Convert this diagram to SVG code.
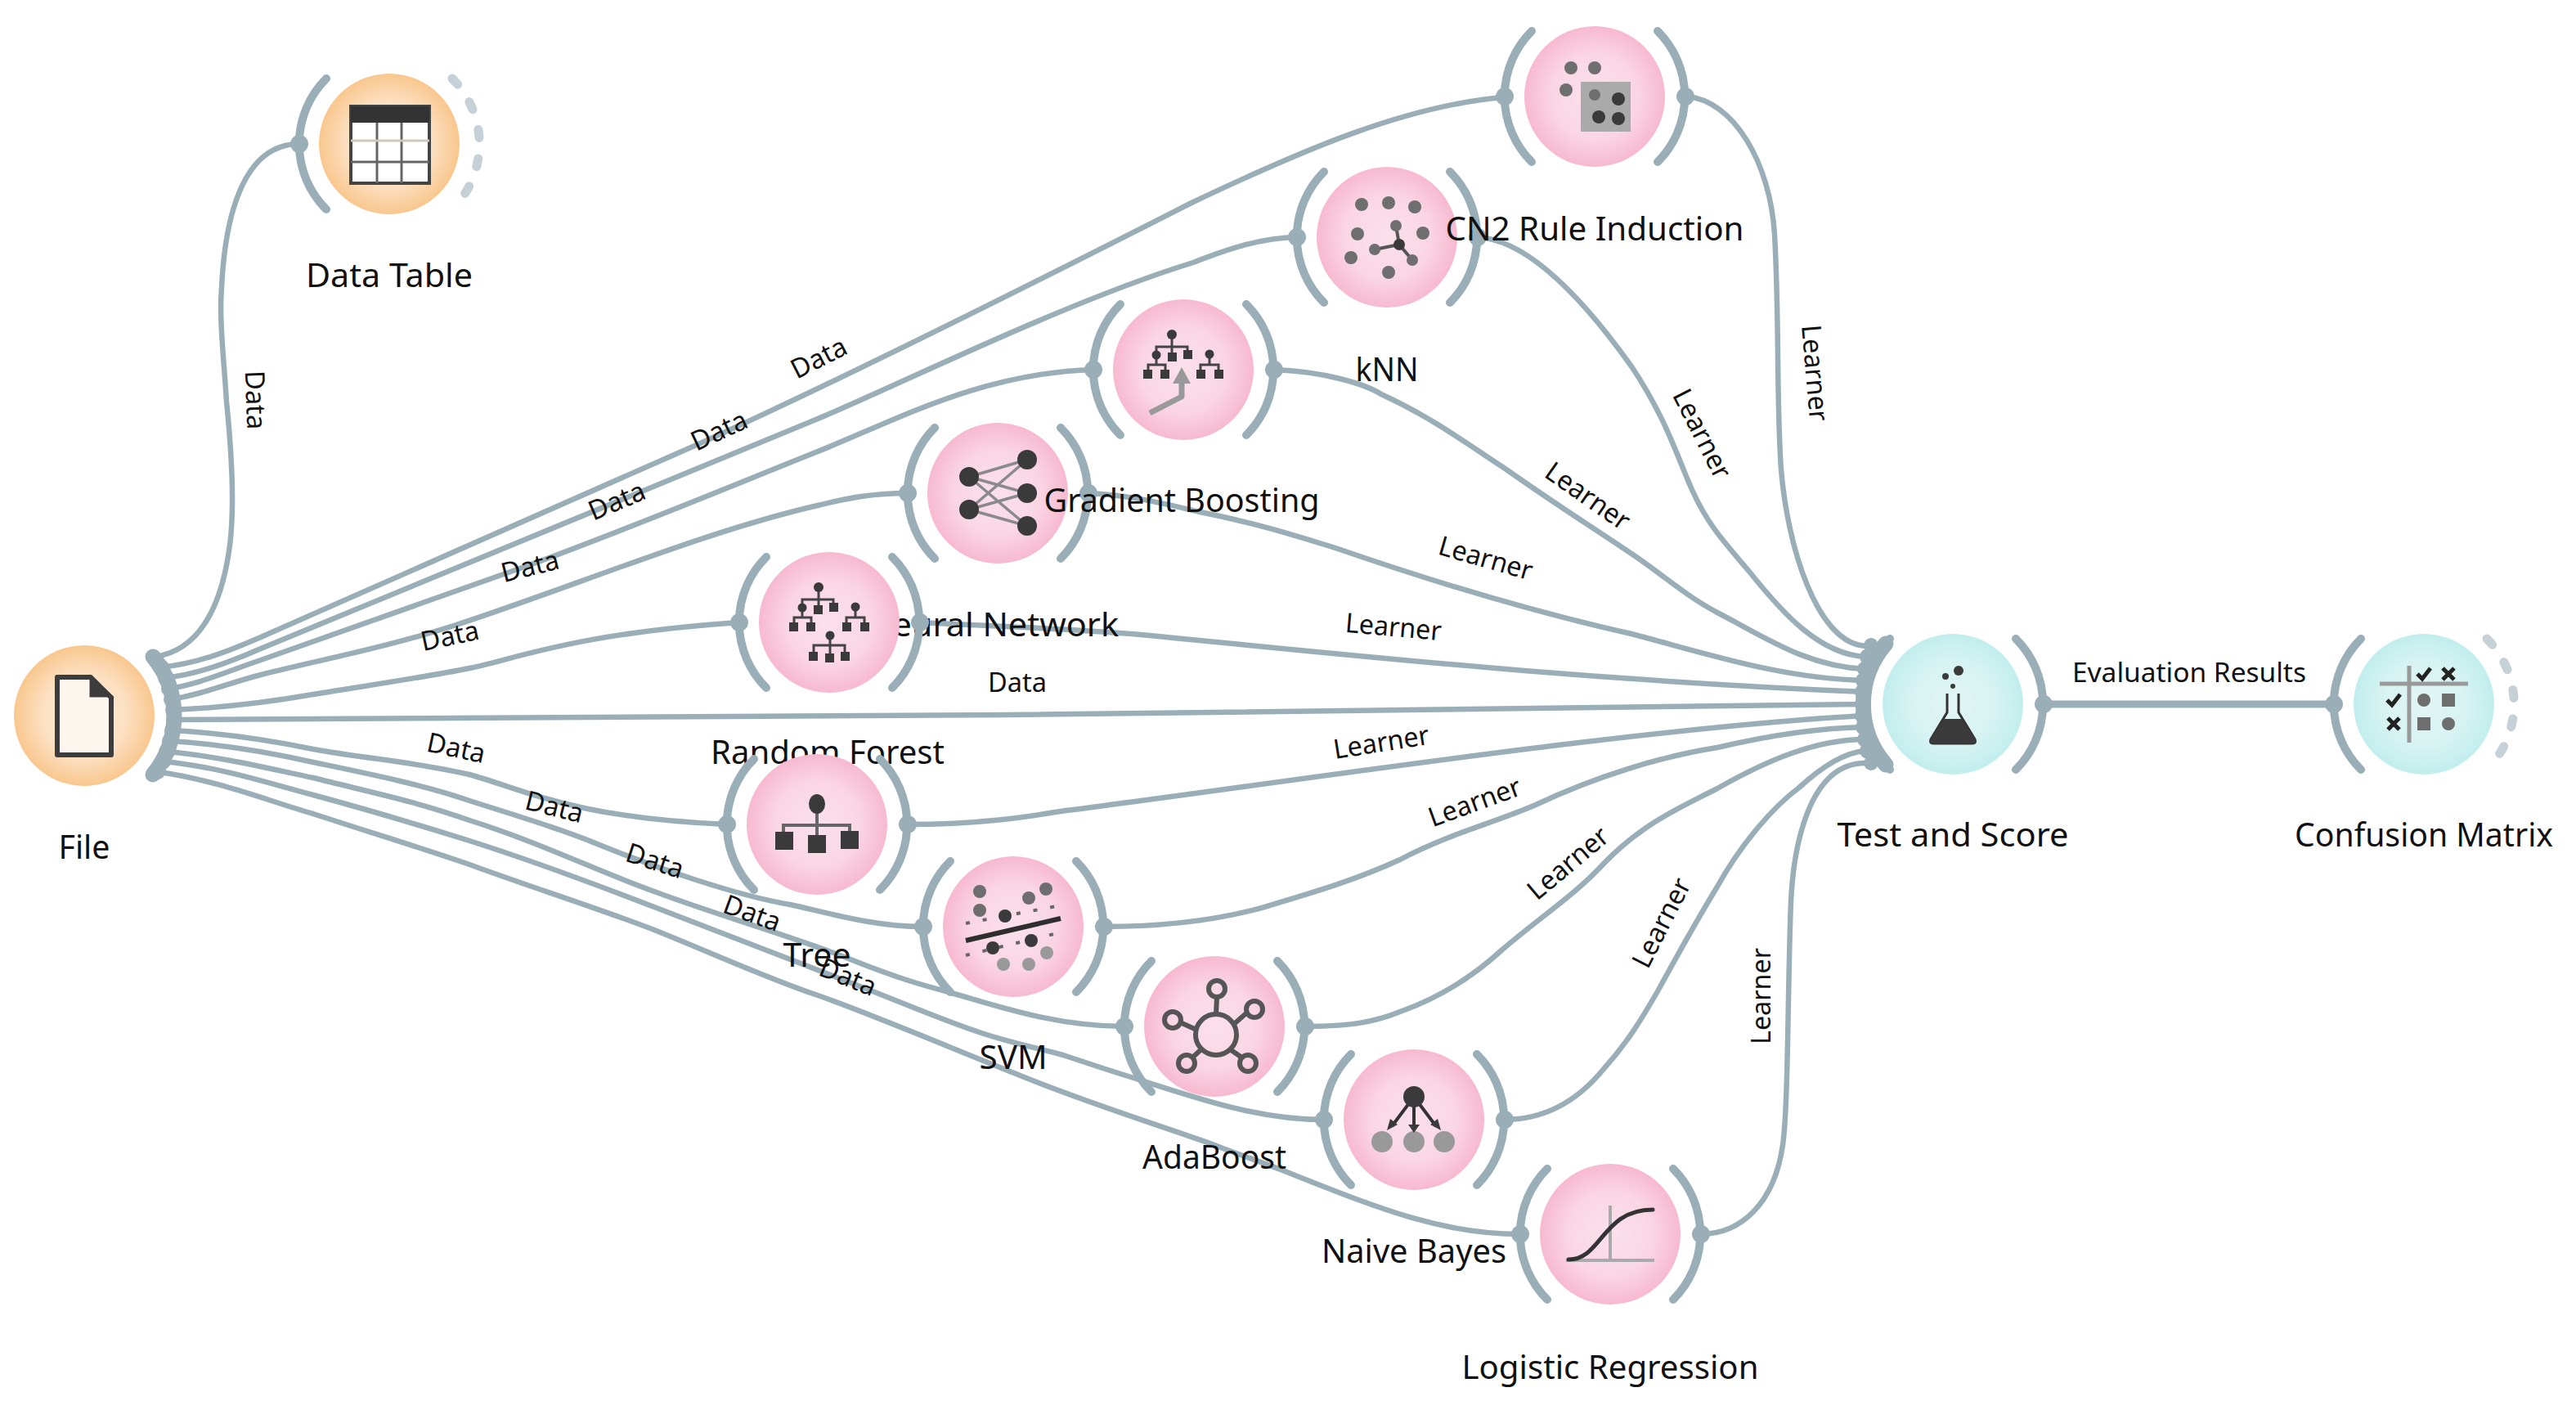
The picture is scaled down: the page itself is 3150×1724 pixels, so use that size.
<svg xmlns="http://www.w3.org/2000/svg" xmlns:xlink="http://www.w3.org/1999/xlink" width="3150" height="1724" viewBox="0 0 3150 1724">
<style>
text{font-family:"Noto Sans","DejaVu Sans",sans-serif;fill:#111}
.nl{font-size:40px;text-anchor:middle}
.el{font-size:33px;text-anchor:middle}
.link{fill:none;stroke:#9aaeb8;stroke-width:6.5;stroke-linecap:round}
.arc{fill:none;stroke:#9aaeb8;stroke-width:10;stroke-linecap:round}
.fan{fill:none;stroke:#9aaeb8;stroke-width:19;stroke-linecap:round}
.dash{fill:none;stroke:#c6d1d7;stroke-width:11;stroke-linecap:round;stroke-dasharray:10 25.6}
.dot{fill:#9aaeb8}
.pink{fill:url(#gPink)}.cyan{fill:url(#gCyan)}.orange{fill:url(#gOrange)}
.d{fill:#3a3a3a}.m{fill:#6e6e6e}.g{fill:#999}
.ln{fill:none;stroke:#444;stroke-width:3}
</style>
<defs>
<radialGradient id="gPink"><stop offset="0" stop-color="#fbe0ea"/><stop offset=".6" stop-color="#fad6e4"/><stop offset="1" stop-color="#f7b9d0"/></radialGradient>
<radialGradient id="gCyan"><stop offset="0" stop-color="#e2f6f5"/><stop offset=".6" stop-color="#d6f3f2"/><stop offset="1" stop-color="#c2eeed"/></radialGradient>
<radialGradient id="gOrange"><stop offset="0" stop-color="#fdeedd"/><stop offset=".6" stop-color="#fce0c2"/><stop offset="1" stop-color="#f9c78e"/></radialGradient>
<path id="arcL" class="arc" d="M-77,-80A113,113 0 0 0 -77,80"/>
<path id="arcR" class="arc" d="M77,-80A113,113 0 0 1 77,80"/>
<path id="arcD" class="dash" d="M77,-80A113,113 0 0 1 77,80"/>
<g id="learner"><use href="#arcL"/><use href="#arcR"/><circle class="dot" cx="-110" r="11"/><circle class="dot" cx="111" r="11"/><circle class="pink" r="86"/></g>
</defs>

<g id="connectors">
<path class="link" d="M190,803C240,795 270,750 281,667C287,620 284,560 277,491C273,430 268,390 271,351C275,270 295,176 366,176"/>
<path class="link" d="M195,816C240,812 280,796 319,779L829,554C900,523 1050,455 1459,247C1590,185 1720,128 1840,119"/>
<path class="link" d="M200,829C240,825 280,810 319,793L1000,512C1090,475 1300,370 1459,321C1500,305 1540,291 1586,290"/>
<path class="link" d="M205,842C240,838 280,820 319,807L647,691C760,650 880,600 1000,552C1100,512 1200,456 1337,452"/>
<path class="link" d="M208,855C245,850 280,835 319,825C400,805 470,792 555,765C700,718 860,650 1000,618C1040,608 1070,603 1110,603"/>
<path class="link" d="M210,868C260,866 320,860 383,849C450,838 520,828 574,817C630,806 700,775 904,761"/>
<path class="link" d="M213,880C800,880 1700,870 2278,861"/>
<path class="link" d="M212,893C280,897 330,905 383,916C450,928 510,932 574,947C640,965 700,1000 889,1008"/>
<path class="link" d="M208,906C270,910 330,920 383,932C450,946 520,960 574,979C640,1000 690,1015 733,1033C800,1060 900,1095 966,1106C1020,1118 1070,1133 1129,1133"/>
<path class="link" d="M205,919C270,925 330,940 383,951C450,968 510,980 574,1003C660,1030 730,1065 800,1090C880,1120 970,1145 1040,1173C1100,1197 1130,1205 1160,1213C1220,1230 1290,1255 1375,1255"/>
<path class="link" d="M200,931C270,938 330,958 383,972C450,990 510,1008 574,1028C650,1052 730,1082 800,1109C880,1140 990,1182 1067,1212C1120,1233 1160,1250 1200,1263C1240,1276 1270,1282 1300,1290C1330,1300 1360,1310 1383,1317C1470,1345 1540,1369 1619,1369"/>
<path class="link" d="M195,944C270,955 330,980 383,995C450,1017 510,1035 574,1057C650,1085 730,1110 800,1137C870,1165 940,1197 1000,1217C1060,1238 1160,1280 1240,1312C1320,1345 1400,1370 1477,1397C1510,1410 1540,1420 1571,1432C1680,1475 1760,1509 1859,1509"/>
<path class="link" d="M2062,118C2120,122 2165,200 2170,287C2176,390 2172,490 2178,574C2186,670 2222,786 2281,790"/>
<path class="link" d="M1806,290C1860,292 1925,350 1995,448C2040,515 2055,570 2071,603C2090,645 2115,670 2140,700C2180,750 2225,800 2281,803"/>
<path class="link" d="M1557,452C1620,454 1670,470 1689,482C1750,510 1790,540 1842,574C1900,615 1940,640 1995,677C2030,700 2060,728 2100,749C2160,780 2210,815 2281,818"/>
<path class="link" d="M1330,603C1380,605 1420,615 1467,626C1540,640 1600,660 1633,670C1720,700 1860,745 1995,775C2090,800 2180,830 2281,832"/>
<path class="link" d="M1124,761C1200,765 1300,768 1383,775C1600,795 1900,830 2281,846"/>
<path class="link" d="M1109,1008C1200,1008 1260,998 1297,992C1550,960 2000,890 2281,875"/>
<path class="link" d="M1349,1133C1420,1133 1490,1125 1546,1109C1610,1090 1660,1075 1712,1051C1770,1020 1830,1005 1878,984C1950,950 2030,925 2100,914C2160,900 2220,890 2281,889"/>
<path class="link" d="M1595,1255C1650,1255 1680,1250 1712,1237C1760,1220 1800,1195 1836,1162C1885,1120 1925,1095 1961,1056C2010,1005 2060,985 2100,964C2160,930 2220,904 2281,904"/>
<path class="link" d="M1839,1369C1890,1369 1930,1345 1961,1307C1990,1275 2008,1245 2027,1212C2050,1170 2075,1125 2100,1084C2130,1030 2170,985 2200,963C2225,940 2255,920 2281,918"/>
<path class="link" d="M2079,1509C2130,1509 2170,1470 2180,1400C2187,1350 2186,1200 2190,1102C2193,1040 2210,933 2281,933"/>
<path class="link" style="stroke-width:9" d="M2498,861H2854"/>
<g id="connector-labels">
<text class="el" textLength="72" lengthAdjust="spacingAndGlyphs" transform="translate(313,489) rotate(88) translate(0,12)">Data</text>
<text class="el" textLength="72" lengthAdjust="spacingAndGlyphs" transform="translate(1001,437) rotate(-27) translate(0,12)">Data</text>
<text class="el" textLength="72" lengthAdjust="spacingAndGlyphs" transform="translate(879,526) rotate(-25) translate(0,12)">Data</text>
<text class="el" textLength="72" lengthAdjust="spacingAndGlyphs" transform="translate(754,612) rotate(-23) translate(0,12)">Data</text>
<text class="el" textLength="72" lengthAdjust="spacingAndGlyphs" transform="translate(648,692) rotate(-14) translate(0,12)">Data</text>
<text class="el" textLength="72" lengthAdjust="spacingAndGlyphs" transform="translate(550,777) rotate(-12) translate(0,12)">Data</text>
<text class="el" textLength="72" lengthAdjust="spacingAndGlyphs" transform="translate(1244,834) translate(0,12)">Data</text>
<text class="el" textLength="72" lengthAdjust="spacingAndGlyphs" transform="translate(558,914) rotate(12) translate(0,12)">Data</text>
<text class="el" textLength="72" lengthAdjust="spacingAndGlyphs" transform="translate(678,986) rotate(14) translate(0,12)">Data</text>
<text class="el" textLength="72" lengthAdjust="spacingAndGlyphs" transform="translate(801,1052) rotate(18) translate(0,12)">Data</text>
<text class="el" textLength="72" lengthAdjust="spacingAndGlyphs" transform="translate(920,1116) rotate(20) translate(0,12)">Data</text>
<text class="el" textLength="72" lengthAdjust="spacingAndGlyphs" transform="translate(1037,1194) rotate(22) translate(0,12)">Data</text>
<text class="el" textLength="118" lengthAdjust="spacingAndGlyphs" transform="translate(2220,456) rotate(85) translate(0,12)">Learner</text>
<text class="el" textLength="118" lengthAdjust="spacingAndGlyphs" transform="translate(2082,530) rotate(63) translate(0,12)">Learner</text>
<text class="el" textLength="118" lengthAdjust="spacingAndGlyphs" transform="translate(1942,606) rotate(35) translate(0,12)">Learner</text>
<text class="el" textLength="118" lengthAdjust="spacingAndGlyphs" transform="translate(1817,682) rotate(16) translate(0,12)">Learner</text>
<text class="el" textLength="118" lengthAdjust="spacingAndGlyphs" transform="translate(1704,766) rotate(5) translate(0,12)">Learner</text>
<text class="el" textLength="118" lengthAdjust="spacingAndGlyphs" transform="translate(1689,907) rotate(-9) translate(0,12)">Learner</text>
<text class="el" textLength="118" lengthAdjust="spacingAndGlyphs" transform="translate(1803,980) rotate(-20) translate(0,12)">Learner</text>
<text class="el" textLength="118" lengthAdjust="spacingAndGlyphs" transform="translate(1917,1055) rotate(-40) translate(0,12)">Learner</text>
<text class="el" textLength="118" lengthAdjust="spacingAndGlyphs" transform="translate(2031,1128) rotate(-63) translate(0,12)">Learner</text>
<text class="el" textLength="118" lengthAdjust="spacingAndGlyphs" transform="translate(2153,1218) rotate(-90) translate(0,12)">Learner</text>
<text class="el" textLength="286" lengthAdjust="spacingAndGlyphs" x="2677" y="834">Evaluation Results</text>
</g>
</g>

<g id="node-data-table" transform="translate(476,176)">
<use href="#arcL"/><use href="#arcD"/><circle class="dot" cx="-110" r="11"/>
<circle class="orange" r="86"/>
<rect x="-47" y="-46" width="96" height="94" fill="#fff" stroke="#444" stroke-width="4"/>
<rect x="-47" y="-46" width="96" height="20" fill="#333"/>
<path d="M-15,-26V48M15,-26V48M-47,22H49" stroke="#666" stroke-width="3" fill="none"/>
<path d="M-47,-4H49" stroke="#cfc8bd" stroke-width="3"/>
<text class="nl" textLength="204" lengthAdjust="spacingAndGlyphs" x="0" y="175">Data Table</text>
</g>

<g id="node-file" transform="translate(103,875)">
<path class="fan" d="M84,-72A113,113 0 0 1 84,72"/>
<g class="dot"><circle cx="85" cy="-72" r="9"/><circle cx="94" cy="-59" r="10"/><circle cx="100" cy="-46" r="10"/><circle cx="104" cy="-33" r="10"/><circle cx="107" cy="-20" r="10"/><circle cx="109" cy="-7" r="10"/><circle cx="110" cy="5" r="10"/><circle cx="108" cy="18" r="10"/><circle cx="105" cy="31" r="10"/><circle cx="101" cy="44" r="10"/><circle cx="96" cy="56" r="10"/><circle cx="90" cy="69" r="9"/></g>
<circle class="orange" r="86"/>
<path d="M-33,-47H8L33,-22V48H-33Z" fill="#fdf6ee" stroke="#3c3c3c" stroke-width="6" stroke-linejoin="round"/>
<path d="M8,-47V-24H33Z" fill="#3c3c3c" stroke="#3c3c3c" stroke-width="3"/>
<text class="nl" textLength="63" lengthAdjust="spacingAndGlyphs" x="0" y="175">File</text>
</g>

<g id="node-neural-network" transform="translate(1220,603)">
<use href="#learner"/>
<g stroke="#8a8a8a" stroke-width="3.5" fill="none"><path d="M-35,-20L36,-41M-35,-20L36,0M-35,-20L36,40M-35,20L36,-41M-35,20L36,0M-35,20L36,40"/></g>
<g class="d"><circle cx="-35" cy="-20" r="12"/><circle cx="-35" cy="20" r="12"/><circle cx="36" cy="-41" r="12"/><circle cx="36" cy="0" r="12"/><circle cx="36" cy="40" r="12"/></g>
<text class="nl" textLength="308" lengthAdjust="spacingAndGlyphs" x="-6" y="175">Neural Network</text>
</g>

<g id="node-random-forest" transform="translate(1014,761)">
<use href="#learner"/>
<path class="ln" d="M-13,-43V-16M-33,-18V-28H5V-18M-43,5V-6H-22V5M-33,-18V-6M32,-19V-6M21,5V-6H43V5M1,16V43M-19,41V28H19V41"/>
<g class="d">
<circle cx="-13" cy="-43" r="6"/><circle cx="-33" cy="-18" r="5.5"/><rect x="-19" y="-21" width="11" height="11"/><rect x="0" y="-24" width="11" height="11"/>
<rect x="-49" y="0" width="11" height="11"/><rect x="-28" y="0" width="11" height="11"/>
<circle cx="32" cy="-19" r="5.5"/><rect x="16" y="0" width="11" height="11"/><rect x="38" y="0" width="11" height="11"/>
<circle cx="1" cy="16" r="5.5"/><rect x="-25" y="36" width="11" height="11"/><rect x="-5" y="38" width="11" height="11"/><rect x="14" y="36" width="11" height="11"/>
</g>
<text class="nl" textLength="286" lengthAdjust="spacingAndGlyphs" x="-2" y="173">Random Forest</text>
</g>

<g id="node-gradient-boosting" transform="translate(1447,452)">
<use href="#learner"/>
<path class="ln" d="M-14,-42V-16M-33,-18V-28H5V-18M-43,5V-6H-22V5M-33,-18V-6M32,-19V-6M21,5V-6H43V5"/>
<g class="d"><circle cx="-14" cy="-43" r="6"/><circle cx="-33" cy="-18" r="5.5"/><rect x="-19" y="-21" width="11" height="11"/><rect x="0" y="-24" width="11" height="11"/>
<rect x="-49" y="0" width="11" height="11"/><rect x="-28" y="0" width="11" height="11"/><circle cx="32" cy="-19" r="5.5"/><rect x="16" y="0" width="11" height="11"/><rect x="38" y="0" width="11" height="11"/></g>
<path d="M-41,53L-2,33V14" stroke="#999" stroke-width="7" fill="none" stroke-linejoin="round"/>
<path class="g" d="M-2,-3L9,17H-13Z"/>
<text class="nl" textLength="337" lengthAdjust="spacingAndGlyphs" x="-2" y="174">Gradient Boosting</text>
</g>

<g id="node-knn" transform="translate(1696,290)">
<use href="#learner"/>
<path d="M15,9L11,-14M15,9L-15,15M15,9L31,28" stroke="#555" stroke-width="4" fill="none"/>
<g class="m"><circle cx="-31" cy="-40" r="8"/><circle cx="2" cy="-42" r="8"/><circle cx="34" cy="-37" r="8"/><circle cx="11" cy="-14" r="7"/><circle cx="-36" cy="-4" r="8"/><circle cx="44" cy="-5" r="8"/><circle cx="-44" cy="25" r="8"/><circle cx="-15" cy="15" r="7"/><circle cx="31" cy="28" r="7"/><circle cx="2" cy="43" r="8"/></g>
<circle class="d" cx="15" cy="9" r="7"/>
<text class="nl" textLength="77" lengthAdjust="spacingAndGlyphs" x="0" y="176">kNN</text>
</g>

<g id="node-cn2-rule-induction" transform="translate(1950,118)">
<use href="#learner"/>
<rect x="-17" y="-18" width="61" height="61" fill="#aaa"/>
<g class="m"><circle cx="-29" cy="-35" r="8"/><circle cx="0" cy="-35" r="8"/><circle cx="-35" cy="-8" r="8"/><circle cx="0" cy="-2" r="7"/></g>
<g class="d"><circle cx="29" cy="3" r="8"/><circle cx="5" cy="25" r="8"/><circle cx="29" cy="27" r="8"/></g>
<text class="nl" textLength="365" lengthAdjust="spacingAndGlyphs" x="0" y="176">CN2 Rule Induction</text>
</g>

<g id="node-tree" transform="translate(999,1008)">
<use href="#learner"/>
<path d="M0,-25V23M-41,19V1H40V18" stroke="#666" stroke-width="4" fill="none"/>
<ellipse class="d" cy="-25" rx="10" ry="12"/>
<g class="d"><rect x="-51" y="9" width="22" height="22"/><rect x="-11" y="13" width="22" height="22"/><rect x="29" y="8" width="22" height="22"/></g>
<text class="nl" textLength="83" lengthAdjust="spacingAndGlyphs" x="0" y="174">Tree</text>
</g>

<g id="node-svm" transform="translate(1239,1133)">
<use href="#learner"/>
<path d="M-58,17L58,-10" stroke="#2e2e2e" stroke-width="6"/>
<path d="M-58,-4L58,-26M-58,35L58,7" stroke="#666" stroke-width="4" stroke-dasharray="5 16" fill="none"/>
<g class="m"><circle cx="-41" cy="-43" r="8"/><circle cx="-41" cy="-20" r="8"/><circle cx="40" cy="-46" r="8"/><circle cx="19" cy="-35" r="8"/></g>
<g class="d"><circle cx="-10" cy="-13" r="8"/><circle cx="-25" cy="26" r="8"/><circle cx="22" cy="17" r="8"/></g>
<g class="g"><circle cx="-12" cy="46" r="8"/><circle cx="19" cy="46" r="8"/><circle cx="41" cy="32" r="8"/></g>
<text class="nl" textLength="83" lengthAdjust="spacingAndGlyphs" x="0" y="174">SVM</text>
</g>

<g id="node-adaboost" transform="translate(1485,1255)">
<use href="#learner"/>
<g fill="none" stroke="#555" stroke-width="6"><path d="M2,-15L3,-36M24,-3L40,-17M-22,4L-42,-5M-16,28L-28,39M19,28L35,39"/><circle cx="2" cy="10" r="25"/><circle cx="3" cy="-46" r="10"/><circle cx="49" cy="-21" r="10"/><circle cx="-51" cy="-8" r="10"/><circle cx="-34" cy="45" r="10"/><circle cx="41" cy="45" r="10"/></g>
<text class="nl" textLength="176" lengthAdjust="spacingAndGlyphs" x="0" y="174">AdaBoost</text>
</g>

<g id="node-naive-bayes" transform="translate(1729,1369)">
<use href="#learner"/>
<g class="g"><circle cx="-39" cy="27" r="13"/><circle cx="0" cy="27" r="13"/><circle cx="37" cy="27" r="13"/></g>
<path d="M0,-28L-27,8M0,-28V8M0,-28L27,8" stroke="#333" stroke-width="4" fill="none"/>
<path class="d" d="M-33,13L-29,-1L-20,6ZM-7,6H7L0,16ZM33,13L29,-1L20,6Z"/>
<circle class="d" cy="-28" r="13"/>
<text class="nl" textLength="226" lengthAdjust="spacingAndGlyphs" x="0" y="175">Naive Bayes</text>
</g>

<g id="node-logistic-regression" transform="translate(1969,1509)">
<use href="#learner"/>
<path d="M0,-35V32M-54,32H54" stroke="#aaa" stroke-width="4" fill="none"/>
<path d="M-51,31C-10,31 -10,-30 52,-30" stroke="#333" stroke-width="5" fill="none" stroke-linecap="round"/>
<text class="nl" textLength="363" lengthAdjust="spacingAndGlyphs" x="0" y="177">Logistic Regression</text>
</g>

<g id="node-test-and-score" transform="translate(2388,861)">
<use href="#arcR"/><circle class="dot" cx="111" r="11"/>
<path class="fan" d="M-82,-74A113,113 0 0 0 -82,74"/>
<path class="arc" d="M-77,-80A113,113 0 0 0 -77,80"/>
<g class="dot"><circle cx="-100" cy="-72" r="9"/><circle cx="-104" cy="-58" r="10"/><circle cx="-107" cy="-43" r="10"/><circle cx="-109" cy="-29" r="10"/><circle cx="-110" cy="-15" r="10"/><circle cx="-110" cy="0" r="10"/><circle cx="-110" cy="14" r="10"/><circle cx="-109" cy="28" r="10"/><circle cx="-107" cy="43" r="10"/><circle cx="-104" cy="57" r="10"/><circle cx="-100" cy="72" r="9"/></g>
<circle class="cyan" r="86"/>
<path d="M-7,-13V10L-27,43Q-29,48 -24,48H24Q29,48 27,43L7,10V-13" fill="none" stroke="#333" stroke-width="3"/>
<path class="d" d="M-11,18H11L27,43Q29,48 24,48H-24Q-29,48 -27,43Z"/>
<circle class="d" cx="7" cy="-41" r="6"/><circle class="d" cx="-9" cy="-34" r="4"/><circle class="d" cx="0" cy="-22" r="3"/>
<text class="nl" textLength="283" lengthAdjust="spacingAndGlyphs" x="0" y="174">Test and Score</text>
</g>

<g id="node-confusion-matrix" transform="translate(2964,861)">
<use href="#arcL"/><use href="#arcD"/><circle class="dot" cx="-110" r="11"/>
<circle class="cyan" r="86"/>
<path d="M-18,-47V47M-54,-25H54" stroke="#999" stroke-width="5" fill="none"/>
<path d="M-8,-37L-2,-31L8,-44M-45,-5L-39,1L-29,-12" stroke="#222" stroke-width="5" fill="none"/>
<path d="M23,-44L37,-30M37,-44L23,-30M-44,17L-30,31M-30,17L-44,31" stroke="#222" stroke-width="5" fill="none"/>
<circle class="m" cy="-5" r="8"/><rect class="m" x="22" y="-13" width="16" height="16"/><rect class="m" x="-8" y="16" width="16" height="16"/><circle class="m" cx="30" cy="24" r="8"/>
<text class="nl" textLength="316" lengthAdjust="spacingAndGlyphs" x="0" y="174">Confusion Matrix</text>
</g>
</svg>
